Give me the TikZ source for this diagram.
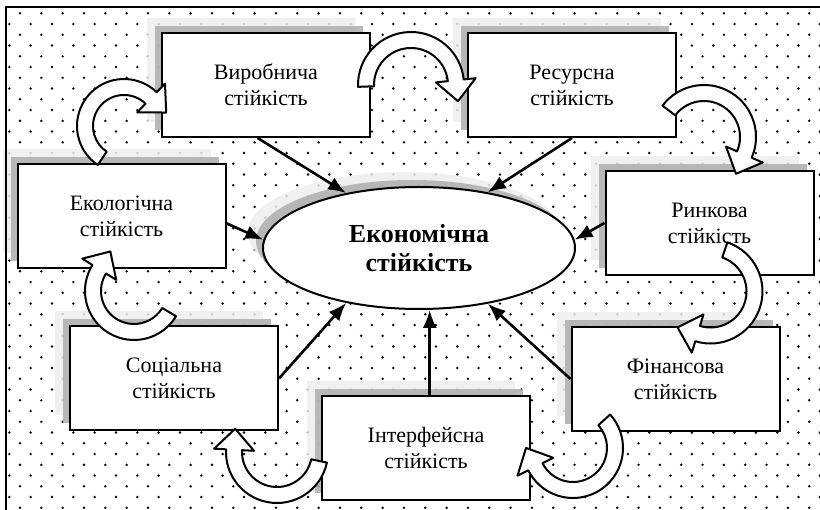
\documentclass[tikz,border=0pt]{standalone}
\usepackage{fontspec}
\setmainfont{Liberation Serif}
\usetikzlibrary{shapes.geometric,arrows.meta,calc,shadows}

\tikzset{
  stab/.style={draw, line width=2pt, fill=white, minimum width=208pt, minimum height=104pt,
    inner sep=0pt, align=center, font=\fontsize{22}{26}\selectfont,
    general shadow={fill=black!7, fill opacity=0.85, shadow xshift=-15pt, shadow yshift=15pt},
    general shadow={fill=black!32, fill opacity=0.85, shadow xshift=-7pt, shadow yshift=7pt}},
  core/.style={stab, ellipse, minimum width=312pt, minimum height=122pt,
    font=\bfseries\fontsize{26}{29}\selectfont},
  link/.style={line width=2.6pt, -{Latex[length=18pt,width=14pt]}},
  bent/.style={fill=white, draw=black, line width=2pt, line join=round}
}

% curved block arrow: centre, radius, tail angle, head angle (clockwise)
\newcommand{\bentarrow}[4]{%
  \pgfmathsetmacro{\bro}{#2+8}\pgfmathsetmacro{\bri}{#2-8}%
  \pgfmathsetmacro{\bho}{#2+20}\pgfmathsetmacro{\bhi}{#2-20}%
  \filldraw[bent] ($(#1)+(#3:\bro)$) arc[start angle=#3, end angle=#4, radius=\bro]
    -- ($(#1)+(#4:\bho)$) -- ($(#1)+(#4:#2)+({#4-90}:21)$)
    -- ($(#1)+(#4:\bhi)$) -- ($(#1)+(#4:\bri)$)
    arc[start angle=#4, end angle=#3, radius=\bri] -- cycle;}

\begin{document}
\begin{tikzpicture}[x=1pt,y=1pt]
  \useasboundingbox (0,0) rectangle (820,-510);
  % dotted background
  \begin{scope}
    \clip (6,-7) rectangle (820,-510);
    \foreach \r in {0,...,46}
      \foreach \c in {0,...,39}
        \fill ({20+21.33*\c-10.67*mod(\r,2)},{-13.3-10.75*\r}) circle (1.35);
  \end{scope}

  \node[stab] (virob) at (266,-85) {Виробнича\\стійкість};
  \node[stab] (resurs) at (572,-85) {Ресурсна\\стійкість};
  \node[stab] (eco) at (121.5,-216) {Екологічна\\стійкість};
  \node[stab] (rynk) at (709.5,-223) {Ринкова\\стійкість};
  \node[stab] (social) at (174,-378.5) {Соціальна\\стійкість};
  \node[stab] (fin) at (675.5,-379) {Фінансова\\стійкість};
  \node[stab] (interf) at (426,-448) {Інтерфейсна\\стійкість};
  \node[core] (econ) at (419,-248) {Економічна\\стійкість};

  \draw[link] (virob.261) -- (econ.143);
  \draw[link] (resurs.south) -- (econ.39);
  \draw[link] (eco.-4) -- (econ.177);
  \draw[link] (rynk.west) -- (econ.3);
  \draw[link] (social.east) -- (econ.217);
  \draw[link] (interf.86) -- (interf.86 |- econ.south);
  \draw[link] (fin.west) -- (econ.321);

  \coordinate (eco-virob) at (124,-126);
  \coordinate (virob-resurs) at (411,-85);
  \coordinate (resurs-rynk) at (704,-137);
  \coordinate (rynk-fin) at (710.5,-291.5);
  \coordinate (fin-interf) at (573,-448);
  \coordinate (interf-social) at (277,-452);
  \coordinate (social-eco) at (134,-291);
  \bentarrow{eco-virob}{39}{236}{46}
  \bentarrow{virob-resurs}{45}{182}{6}
  \bentarrow{resurs-rynk}{44}{143}{-23.5}
  \bentarrow{rynk-fin}{44}{71}{-107}
  \bentarrow{fin-interf}{42}{42}{-153.5}
  \bentarrow{interf-social}{43}{-12}{-183}
  \bentarrow{social-eco}{41}{-31}{-212}

  \draw[line width=2pt] (6,-510) -- (6,-7) -- (820,-7);
\end{tikzpicture}
\end{document}
